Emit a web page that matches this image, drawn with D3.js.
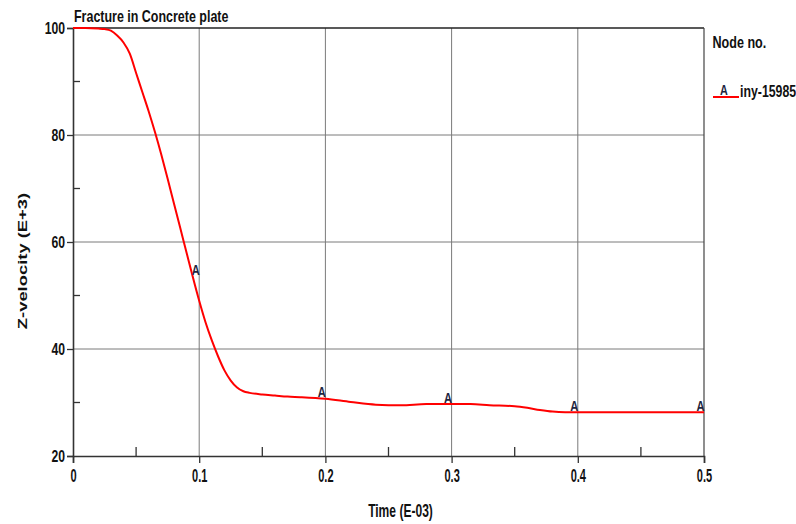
<!DOCTYPE html>
<html>
<head>
<meta charset="utf-8">
<script src="https://cdnjs.cloudflare.com/ajax/libs/d3/7.8.5/d3.min.js"></script>
<style>
body{margin:0;background:#fff;}
svg{display:block;}
.lbl{font-family:"Liberation Sans",Arial,sans-serif;font-weight:bold;fill:#111;}
</style>
</head>
<body>
<div id="chart"></div>
<script>
var w = 796;
var h = 524;
var plotL = 73, plotR = 704, plotT = 28, plotB = 456;

var title = "Fracture in Concrete plate";
var xTitle = "Time (E-03)";
var yTitle = "Z-velocity (E+3)";
var legendTitle = "Node no.";
var seriesName = "iny-15985";
var markerSymbol = "A";

// time (E-03) and z-velocity (E+3)
var timeVals = [0, 0.01, 0.02, 0.025, 0.03, 0.035, 0.04, 0.045, 0.05, 0.055, 0.06, 0.065, 0.07, 0.075, 0.08, 0.085, 0.09, 0.095, 0.1, 0.105, 0.11, 0.115, 0.12, 0.125, 0.13, 0.135, 0.14, 0.15, 0.16, 0.17, 0.18, 0.2, 0.22, 0.24, 0.26, 0.28, 0.3, 0.315, 0.33, 0.35, 0.36, 0.37, 0.38, 0.39, 0.4, 0.45, 0.5];
var velVals = [100, 100, 99.9, 99.8, 99.5, 98.6, 97.3, 95.2, 91.6, 88.0, 84.4, 80.5, 76.3, 71.8, 67.2, 62.6, 58.0, 53.4, 49.0, 45.0, 41.6, 38.6, 36.0, 34.1, 32.8, 32.1, 31.8, 31.5, 31.3, 31.1, 31.0, 30.7, 30.1, 29.6, 29.5, 29.7, 29.7, 29.7, 29.5, 29.3, 29.0, 28.6, 28.3, 28.2, 28.2, 28.2, 28.2];

// where the "A" symbols sit
var markerTimes = [0.1, 0.2, 0.3, 0.4, 0.5];
var markerVals = [53.7, 30.9, 29.8, 28.4, 28.4];

var xTicks = [0, 0.1, 0.2, 0.3, 0.4, 0.5];
var xMinor = [0.05, 0.15, 0.25, 0.35, 0.45];
var yTicks = [20, 40, 60, 80, 100];
var yMinor = [30, 50, 70, 90];

var svg = d3.select("#chart").append("svg").attr("width", w).attr("height", h);

var xScale = d3.scaleLinear().domain([0, 0.5]).range([plotL, plotR]);
var yScale = d3.scaleLinear().domain([20, 100]).range([plotB, plotT]);

// the picture's text is squeezed sideways, so every label gets its own x-scale
function addText(str, x, y, size, sx, anchor, weight, rot){
  var t = "translate(" + x + "," + y + ")" + (rot ? " rotate(" + rot + ")" : "") + " scale(" + sx + ",1)";
  return svg.append("text")
    .attr("class", "lbl")
    .attr("transform", t)
    .style("font-size", size + "px")
    .style("font-weight", weight || "bold")
    .style("text-anchor", anchor || "start")
    .text(str);
}

// grid
svg.append("g").selectAll("line").data(xTicks.slice(1, 5)).enter().append("line")
  .attr("x1", function(d){ return xScale(d); }).attr("x2", function(d){ return xScale(d); })
  .attr("y1", plotT).attr("y2", plotB)
  .attr("stroke", "#7a7a7a").attr("stroke-width", 1);
svg.append("g").selectAll("line").data(yTicks.slice(1, 4)).enter().append("line")
  .attr("x1", plotL).attr("x2", plotR)
  .attr("y1", function(d){ return yScale(d); }).attr("y2", function(d){ return yScale(d); })
  .attr("stroke", "#7a7a7a").attr("stroke-width", 1);

// frame
svg.append("line").attr("x1", plotL).attr("x2", plotR).attr("y1", plotT).attr("y2", plotT).attr("stroke", "#222").attr("stroke-width", 1.3);
svg.append("line").attr("x1", plotR).attr("x2", plotR).attr("y1", plotT).attr("y2", plotB).attr("stroke", "#444").attr("stroke-width", 1.2);

// axes
var xAxis = svg.append("g").attr("transform", "translate(0," + plotB + ")")
  .call(d3.axisBottom(xScale).tickValues(xTicks).tickSize(7).tickFormat(d3.format("")));
var yAxis = svg.append("g").attr("transform", "translate(" + plotL + ",0)")
  .call(d3.axisLeft(yScale).tickValues(yTicks).tickSize(6).tickFormat(d3.format("")));
[xAxis, yAxis].forEach(function(a){
  a.select(".domain").attr("stroke", "#333").attr("stroke-width", 1.6);
  a.selectAll(".tick line").attr("stroke", "#333").attr("stroke-width", 1.3);
  a.selectAll(".tick text").remove();
});
xTicks.forEach(function(d){ addText(d3.format("")(d), xScale(d) + 0.5, 482, 19, 0.58, "middle"); });
yTicks.forEach(function(d){ addText(d, plotL - 8, yScale(d) + 6, 16.5, 0.74, "end"); });

// minor ticks inward
svg.append("g").selectAll("line").data(xMinor).enter().append("line")
  .attr("x1", function(d){ return xScale(d); }).attr("x2", function(d){ return xScale(d); })
  .attr("y1", plotB).attr("y2", plotB - 9)
  .attr("stroke", "#333").attr("stroke-width", 1.3);
svg.append("g").selectAll("line").data(yMinor).enter().append("line")
  .attr("x1", plotL).attr("x2", plotL + 7)
  .attr("y1", function(d){ return yScale(d); }).attr("y2", function(d){ return yScale(d); })
  .attr("stroke", "#333").attr("stroke-width", 1.3);

// curve
var pts = timeVals.map(function(t, i){ return {t: t, v: velVals[i]}; });
var line = d3.line().x(function(d){ return xScale(d.t); }).y(function(d){ return yScale(d.v); }).curve(d3.curveMonotoneX);
svg.append("path").datum(pts).attr("d", line)
  .attr("fill", "none").attr("stroke", "#ff0000").attr("stroke-width", 2);

// markers
markerTimes.forEach(function(t, i){
  addText(markerSymbol, xScale(t) + 0.5, yScale(markerVals[i]) - 0.5, 15.5, 0.72, "end").style("fill", "#1d2540");
});

// titles
addText(title, plotL + 1, 22, 16, 0.78, "start");
addText(xTitle, 400.5, 517, 18, 0.67, "middle");
addText(yTitle, 27, 261, 16, 0.77, "middle", "bold", -90).attr("transform", "translate(27,261) rotate(-90) scale(1.15,0.77)");

// legend
addText(legendTitle, 712.5, 47.5, 17, 0.74, "start");
svg.append("line").attr("x1", 713).attr("x2", 739).attr("y1", 97).attr("y2", 97).attr("stroke", "#ff0000").attr("stroke-width", 2);
addText(markerSymbol, 724, 95, 15, 0.72, "middle").style("fill", "#1d2540");
addText(seriesName, 740, 97, 16, 0.77, "start");
</script>
</body>
</html>
